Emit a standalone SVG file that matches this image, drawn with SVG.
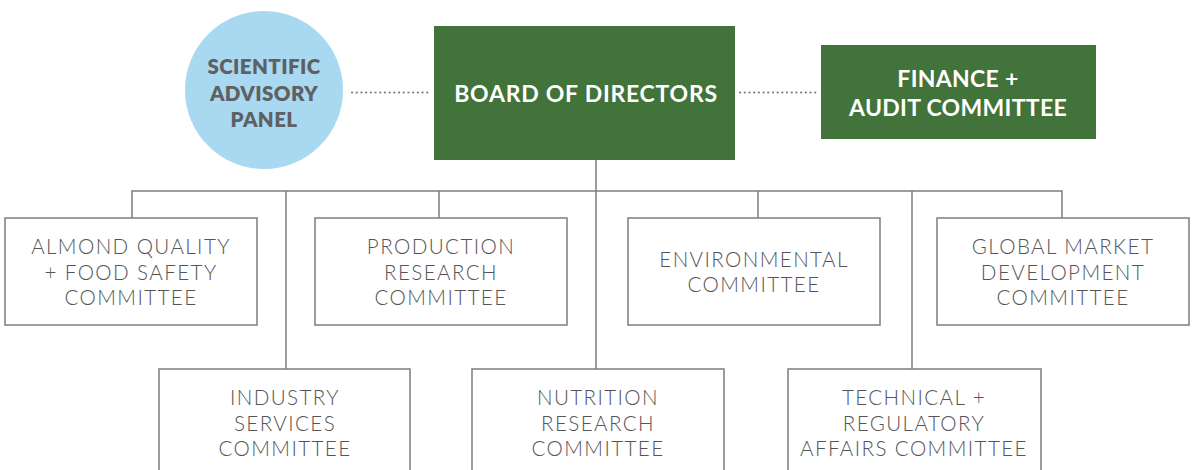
<svg xmlns="http://www.w3.org/2000/svg" width="1194" height="470" viewBox="0 0 1194 470">
<style>
.bg{fill:#ffffff}
.green{fill:#41733a}
.circle{fill:#a9d8f1}
.box{fill:#ffffff;stroke:#7d7d7d;stroke-width:1.5}
.line{fill:none;stroke:#7d7d7d;stroke-width:1.5}
.dots{fill:none;stroke:#7d7d7d;stroke-width:2.2;stroke-dasharray:0.1 4.6;stroke-linecap:round}
.wt{font-family:Lato,"Liberation Sans",sans-serif;font-weight:700;fill:#ffffff;font-size:23px;text-anchor:middle;letter-spacing:0.3px}
.wb{letter-spacing:0.75px}
.ct{font-family:Lato,"Liberation Sans",sans-serif;font-weight:800;fill:#5f6063;font-size:20.5px;text-anchor:middle;letter-spacing:0.4px}
.bt{font-family:Lato,"Liberation Sans",sans-serif;font-weight:300;fill:#555557;font-size:20.6px;text-anchor:middle;letter-spacing:1.4px}
</style>
<rect class="bg" x="0" y="0" width="1194" height="470"/>
<g id="connectors">
<path class="dots" d="M352 92.5H430"/>
<path class="dots" d="M740 92.5H818"/>
<path class="line" d="M596 160V369"/>
<path class="line" d="M132 218V191H1062V218"/>
<path class="line" d="M286 191V369"/>
<path class="line" d="M439 191V218"/>
<path class="line" d="M758 191V218"/>
<path class="line" d="M912 191V369"/>
</g>
<g id="scientific-advisory-panel">
<circle class="circle" cx="264" cy="90" r="79"/>
<text class="ct" x="264" y="74">SCIENTIFIC</text>
<text class="ct" x="264" y="101">ADVISORY</text>
<text class="ct" x="264" y="127">PANEL</text>
</g>
<g id="board-of-directors">
<rect class="green" x="434" y="26" width="301" height="134"/>
<text class="wt wb" x="586" y="102">BOARD OF DIRECTORS</text>
</g>
<g id="finance-audit">
<rect class="green" x="821" y="45" width="275" height="94"/>
<text class="wt" x="958" y="87">FINANCE +</text>
<text class="wt" x="958" y="116">AUDIT COMMITTEE</text>
</g>
<g id="almond-quality">
<rect class="box" x="5" y="218" width="252" height="107"/>
<text class="bt" x="131" y="254">ALMOND QUALITY</text>
<text class="bt" x="131" y="280">+ FOOD SAFETY</text>
<text class="bt" x="131" y="305">COMMITTEE</text>
</g>
<g id="production-research">
<rect class="box" x="315" y="218" width="252" height="107"/>
<text class="bt" x="441" y="254">PRODUCTION</text>
<text class="bt" x="441" y="280">RESEARCH</text>
<text class="bt" x="441" y="305">COMMITTEE</text>
</g>
<g id="environmental">
<rect class="box" x="628" y="218" width="252" height="107"/>
<text class="bt" x="754" y="267">ENVIRONMENTAL</text>
<text class="bt" x="754" y="292">COMMITTEE</text>
</g>
<g id="global-market">
<rect class="box" x="937" y="218" width="252" height="107"/>
<text class="bt" x="1063" y="254">GLOBAL MARKET</text>
<text class="bt" x="1063" y="280">DEVELOPMENT</text>
<text class="bt" x="1063" y="305">COMMITTEE</text>
</g>
<g id="industry-services">
<rect class="box" x="159" y="369" width="251" height="110"/>
<text class="bt" x="285" y="405">INDUSTRY</text>
<text class="bt" x="285" y="431">SERVICES</text>
<text class="bt" x="285" y="456">COMMITTEE</text>
</g>
<g id="nutrition-research">
<rect class="box" x="472" y="369" width="252" height="110"/>
<text class="bt" x="598" y="405">NUTRITION</text>
<text class="bt" x="598" y="431">RESEARCH</text>
<text class="bt" x="598" y="456">COMMITTEE</text>
</g>
<g id="technical-regulatory">
<rect class="box" x="788" y="369" width="253" height="110"/>
<text class="bt" x="914" y="405">TECHNICAL +</text>
<text class="bt" x="914" y="431">REGULATORY</text>
<text class="bt" x="914" y="456">AFFAIRS COMMITTEE</text>
</g>
</svg>
